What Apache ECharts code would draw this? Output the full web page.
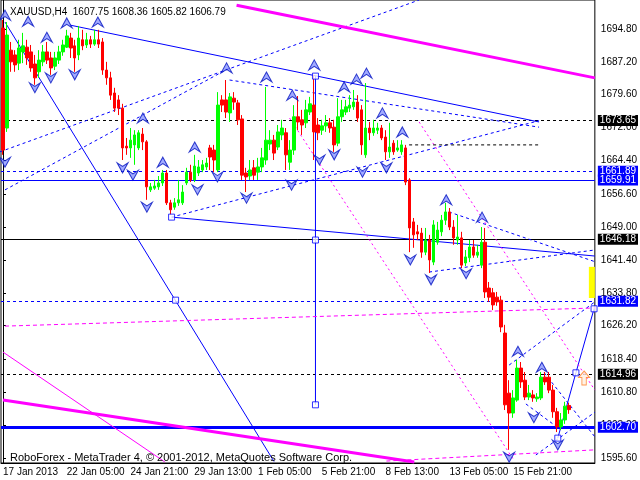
<!DOCTYPE html>
<html><head><meta charset="utf-8">
<script src="https://cdn.jsdelivr.net/npm/echarts@6/dist/echarts.min.js"></script>
<style>html,body{margin:0;padding:0;background:#fff}#c{width:640px;height:480px}</style>
</head><body><div id="c"></div>
<script>
const symbolName = 'XAUUSD,H4';
const lastQuote = [1607.75, 1608.36, 1605.82, 1606.79];
const tickLabels = ['17 Jan 2013','22 Jan 05:00','24 Jan 21:00','29 Jan 13:00','1 Feb 05:00','5 Feb 21:00','8 Feb 13:00','13 Feb 05:00','15 Feb 21:00'];
const yTicks = [1595.60,1603.20,1610.80,1618.40,1626.20,1633.80,1641.40,1649.00,1656.60,1664.40,1672.00,1679.60,1687.20,1694.80];
const opens = [1695.0,1671.9,1689.9,1688.8,1686.9,1689.5,1690.6,1689.5,1686.7,1684.9,1687.2,1689.5,1688.1,1686.2,1687.6,1689.5,1690.6,1692.7,1690.9,1688.8,1692.3,1691.1,1692.3,1691.3,1692.3,1691.8,1685.3,1683.5,1680.0,1678.4,1676.5,1667.7,1667.3,1668.0,1667.3,1670.5,1668.7,1657.6,1658.0,1658.3,1659.2,1661.5,1654.6,1653.6,1654.6,1654.6,1659.2,1661.7,1659.9,1661.5,1662.2,1662.9,1667.3,1666.8,1662.2,1678.4,1678.4,1675.4,1678.8,1677.7,1674.0,1661.5,1660.8,1662.7,1661.7,1662.9,1664.5,1668.2,1669.1,1667.5,1670.3,1670.8,1664.0,1666.8,1674.5,1673.8,1673.1,1675.6,1677.2,1672.6,1671.4,1672.4,1673.1,1672.1,1668.4,1674.5,1675.6,1676.5,1676.8,1677.9,1676.1,1665.7,1671.9,1670.8,1671.4,1671.9,1669.8,1666.4,1668.4,1666.8,1666.4,1667.3,1659.9,1650.2,1647.9,1647.6,1643.2,1646.0,1640.9,1645.5,1647.9,1650.6,1652.5,1649.0,1646.0,1646.5,1640.7,1641.9,1644.4,1642.5,1640.2,1645.5,1634.9,1633.8,1632.8,1632.1,1624.5,1610.6,1606.0,1609.0,1616.4,1613.6,1609.7,1610.2,1609.3,1609.5,1614.3,1614.3,1611.3,1606.3,1602.8,1604.4,1607.75];
const closes = [1666.8,1693.4,1687.2,1686.5,1690.4,1690.9,1688.1,1685.8,1683.5,1687.6,1689.5,1687.6,1685.8,1688.1,1689.5,1691.1,1693.2,1690.4,1688.1,1692.7,1690.9,1692.3,1691.3,1692.3,1691.3,1685.3,1683.5,1679.5,1676.5,1676.5,1667.3,1667.3,1669.1,1670.3,1670.8,1668.7,1658.3,1658.3,1658.5,1659.2,1661.5,1654.6,1653.0,1654.6,1655.3,1657.1,1661.7,1659.9,1663.1,1662.9,1663.4,1663.8,1665.2,1664.5,1677.2,1677.2,1675.6,1679.1,1677.9,1673.8,1661.0,1660.6,1662.2,1661.0,1662.9,1665.0,1669.1,1669.1,1666.1,1671.0,1671.9,1665.7,1666.8,1674.5,1673.3,1672.6,1676.1,1677.5,1671.0,1670.8,1672.4,1673.1,1671.9,1668.0,1674.5,1676.1,1676.8,1677.2,1677.9,1674.2,1668.0,1671.9,1670.8,1671.9,1671.9,1669.6,1666.4,1667.5,1666.4,1667.3,1668.0,1659.4,1648.8,1647.2,1647.4,1643.2,1646.0,1641.4,1649.5,1648.3,1650.6,1652.5,1649.0,1646.5,1646.7,1640.2,1642.1,1644.4,1642.5,1643.2,1645.5,1634.0,1632.8,1631.0,1631.7,1625.9,1607.9,1606.0,1609.5,1616.4,1613.2,1609.7,1610.6,1609.5,1609.7,1614.3,1613.2,1611.3,1606.3,1602.8,1604.4,1607.6,1606.79];
const lows = [1665.7,1671.0,1684.9,1684.9,1685.3,1686.9,1686.5,1684.9,1681.9,1683.5,1686.2,1686.7,1684.2,1685.3,1686.7,1688.6,1690.4,1688.1,1684.9,1687.6,1689.9,1690.4,1690.4,1690.9,1690.4,1684.2,1681.9,1678.4,1675.6,1674.9,1664.5,1665.7,1665.0,1663.4,1666.8,1666.8,1655.3,1657.1,1657.6,1657.6,1658.5,1654.1,1651.8,1653.0,1653.9,1654.1,1658.7,1659.4,1659.4,1660.8,1661.7,1662.2,1662.2,1661.7,1661.7,1675.6,1674.2,1673.3,1676.1,1672.6,1659.9,1657.1,1659.9,1659.9,1659.9,1661.7,1663.4,1666.8,1664.5,1666.8,1669.1,1662.2,1662.2,1665.7,1671.4,1670.3,1671.9,1674.9,1664.5,1669.1,1670.3,1671.0,1670.8,1666.4,1667.7,1673.3,1674.9,1675.6,1676.1,1673.3,1665.7,1665.0,1669.1,1670.1,1670.5,1669.1,1664.5,1665.0,1665.7,1666.4,1665.7,1658.7,1643.2,1644.2,1646.0,1641.9,1642.5,1638.4,1640.2,1644.9,1646.9,1649.5,1648.3,1644.9,1644.9,1639.5,1640.0,1640.9,1641.9,1641.9,1639.5,1632.6,1631.7,1629.8,1630.8,1624.7,1606.7,1597.5,1604.9,1608.6,1611.8,1609.0,1609.0,1608.6,1608.6,1609.0,1612.5,1610.6,1604.9,1601.6,1602.1,1603.5,1605.82];
const highs = [1696.9,1696.4,1691.8,1689.9,1692.3,1693.9,1692.3,1691.1,1688.8,1689.9,1691.1,1691.8,1689.5,1689.5,1690.9,1692.3,1694.6,1693.9,1692.3,1695.5,1694.6,1693.9,1693.2,1694.6,1694.6,1692.7,1687.2,1684.9,1681.2,1679.5,1677.5,1669.6,1671.9,1671.4,1671.4,1671.9,1669.1,1659.2,1659.9,1660.8,1662.2,1662.2,1655.3,1655.7,1659.9,1658.7,1662.7,1663.4,1665.7,1664.5,1664.5,1665.0,1668.0,1668.0,1680.2,1679.5,1683.0,1680.0,1680.2,1678.4,1674.9,1662.7,1664.5,1664.5,1665.0,1667.3,1681.4,1671.4,1670.3,1672.6,1673.8,1671.9,1669.1,1677.2,1679.3,1676.1,1678.4,1679.1,1684.2,1674.2,1673.8,1674.9,1674.2,1673.8,1678.8,1678.4,1678.4,1679.5,1680.7,1679.5,1677.2,1682.3,1673.3,1673.8,1673.1,1672.6,1671.4,1673.1,1669.1,1669.1,1669.1,1668.0,1660.3,1651.1,1649.5,1648.8,1648.8,1647.2,1650.6,1650.2,1651.8,1654.6,1653.4,1650.6,1651.8,1647.9,1643.7,1646.0,1646.0,1644.9,1649.0,1648.8,1636.3,1634.9,1634.0,1633.1,1626.4,1613.6,1611.3,1618.3,1617.8,1615.5,1612.5,1611.3,1610.6,1615.5,1615.5,1615.5,1612.5,1607.2,1606.0,1608.6,1608.36];
// horizontal price levels
const levelsBlackDashed = [1673.65, 1614.96];
const levelsBlackSolid = [1646.18];
const levelsBlueDashed = [1661.89, 1631.82];
const levelsBlueSolid = [1659.91];
const levelsBlueThick = [1602.70];
// trend lines: [[barIndex, price], ...]
const blueSolidLines = [
  [[0.5,1696.4],[68,1594.8]],
  [[16.8,1695.7],[134.5,1673.3]],
  [[42.3,1651.3],[148.5,1642.3]],
  [[78.4,1683.9],[78.4,1607.9]],
  [[139.2,1600.2],[143.75,1615.3],[148.3,1630.1]]
];
const blueDashedLines = [
  [[-0.75,1666.4],[104.4,1701.5]],
  [[0.5,1657.6],[56.85,1685.8]],
  [[56.85,1683.0],[134.5,1672.1]],
  [[42.3,1651.3],[134.5,1673.6]],
  [[111.9,1652.5],[148.5,1641.0]],
  [[106.9,1638.6],[148.5,1643.7]],
  [[127.0,1617.1],[148.5,1631.7]],
  [[135.8,1615.3],[148.5,1600.5]],
  [[133.7,1596.3],[148.5,1606.2]],
  [[131.2,1608.1],[140.0,1602.1]]
];
const blueSquares = [[43.3,1632.1],[42.3,1651.3],[78.4,1683.9],[78.4,1646.0],[78.4,1607.9],[139.2,1600.2],[143.75,1615.3],[148.3,1630.1]];
const magentaThickLines = [
  [[58.6,1700.3],[148.5,1683.5]],
  [[0,1609.0],[103.2,1594.7]]
];
const magentaThinLines = [[[0,1620.1],[40.6,1594.7]]];
const magentaDashedLines = [
  [[0.5,1626.1],[148.75,1630.3]],
  [[96.2,1594.9],[148.75,1597.5]]
];
const magentaDottedLines = [
  [[71.9,1674.2],[128.2,1595.1]],
  [[104.4,1673.3],[148.5,1611.3]]
];
const blackDashedShort = [[[101.9,1668.0],[134.5,1668.0]]];
const upArrows = [[0.5,1698.0],[6.3,1696.6],[11.0,1692.9],[16.0,1696.2],[23.8,1696.4],[35.1,1674.2],[40.1,1664.0],[48.1,1667.5],[56.1,1685.8],[66.1,1683.7],[72.6,1679.5],[78.1,1686.5],[85.6,1681.4],[88.7,1683.2],[91.2,1684.6],[95.2,1675.4],[100.2,1671.0],[111.2,1655.3],[120.2,1651.3],[129.2,1620.3],[135.2,1616.6]];
const downArrows = [[0.5,1664.0],[8.0,1681.2],[12.0,1683.5],[18.0,1684.2],[30.0,1662.7],[32.6,1661.0],[36.1,1653.6],[48.8,1657.6],[53.8,1660.6],[61.1,1655.7],[72.4,1658.7],[79.4,1664.5],[83.1,1665.7],[90.2,1661.7],[96.2,1662.7],[102.2,1641.4],[107.4,1636.8],[116.2,1638.2],[127.0,1595.8],[133.2,1604.9],[139.2,1598.6]];
const signalArrow = [[145.8,1614.1]];
const yellowBar = [[147.0,1639.8],[148.5,1632.6]];

const N = 149;
const cats = [];
for (let i = 0; i < N; i++) cats.push(i % 16 === 0 && tickLabels[i / 16] ? tickLabels[i / 16] : 'b' + i);
const candles = opens.map((o, i) => [o, closes[i], lows[i], highs[i]]);

const FONT = 'Liberation Sans';
const BLUE = '#0000ff';
function lineSeries(lines, style) {
  return lines.map(pts => ({
    type: 'line', xAxisIndex: 1, yAxisIndex: 0, data: pts, symbol: 'none', silent: true, z: 1,
    lineStyle: style, animation: false
  }));
}
function lvlLabel(bg) {
  return { show: true, position: 'end', distance: 3, color: '#fff', backgroundColor: bg, fontFamily: FONT, fontSize: 10,
    padding: [1, 2, 0, 2], formatter: p => p.value.toFixed(2) };
}
function hLevels(vals, style, bg) {
  return vals.map(v => ({ yAxis: v, lineStyle: style, label: lvlLabel(bg) }));
}
const markData = [].concat(
  hLevels(levelsBlackDashed, { color: '#000', type: [3, 3], width: 1 }, '#000'),
  hLevels(levelsBlackSolid, { color: '#000', type: 'solid', width: 1 }, '#000'),
  hLevels(levelsBlueDashed, { color: BLUE, type: [3, 3], width: 1 }, BLUE),
  hLevels(levelsBlueSolid, { color: BLUE, type: 'solid', width: 1 }, BLUE),
  hLevels(levelsBlueThick, { color: BLUE, type: 'solid', width: 3 }, BLUE),
  [{ yAxis: lastQuote[3], lineStyle: { opacity: 0 }, label: lvlLabel('#000') }]
);

const upPath = 'path://M6,0 L12,11 L6,7 L0,11 Z';
const downPath = 'path://M0,0 L6,4 L12,0 L6,11 Z';
const orangeUp = 'path://M5,0 L10,6 L7,6 L7,13 L3,13 L3,6 L0,6 Z';

const series = [
  {
    type: 'candlestick', data: candles, barWidth: 3, z: 3, silent: true,
    itemStyle: { color: '#00ff00', color0: '#ff0000', borderColor: '#00ff00', borderColor0: '#ff0000', borderWidth: 1 },
    markLine: { symbol: 'none', silent: true, animation: false, z: 1, data: markData }
  }
].concat(
  lineSeries(blueSolidLines, { color: BLUE, width: 1 }),
  lineSeries(blueDashedLines, { color: BLUE, width: 1, type: [3, 3] }),
  lineSeries(magentaThickLines, { color: '#ff00ff', width: 3 }),
  lineSeries(magentaThinLines, { color: '#ff00ff', width: 1 }),
  lineSeries(magentaDashedLines, { color: '#ff00ff', width: 1, type: [4, 3] }),
  lineSeries(magentaDottedLines, { color: '#ff00ff', width: 1, type: [2, 3] }),
  lineSeries(blackDashedShort, { color: '#000', width: 1, type: [3, 3] }),
  [
    { type: 'scatter', xAxisIndex: 1, data: blueSquares, symbol: 'rect', symbolSize: 6, z: 4, silent: true,
      itemStyle: { color: '#fff', borderColor: BLUE, borderWidth: 1 } },
    { type: 'scatter', xAxisIndex: 1, data: upArrows, symbol: upPath, symbolSize: [11, 10], z: 5, silent: true,
      itemStyle: { color: '#8a96ff', borderColor: '#0010c0', borderWidth: 1 } },
    { type: 'scatter', xAxisIndex: 1, data: downArrows, symbol: downPath, symbolSize: [11, 10], z: 5, silent: true,
      itemStyle: { color: '#8a96ff', borderColor: '#0010c0', borderWidth: 1 } },
    { type: 'scatter', xAxisIndex: 1, data: signalArrow, symbol: orangeUp, symbolSize: [11, 14], z: 5, silent: true,
      itemStyle: { color: '#fff0e0', borderColor: '#ff7f27', borderWidth: 1 } },
    { type: 'line', xAxisIndex: 1, data: [], silent: true,
      markArea: { silent: true, itemStyle: { color: '#ffff00' }, data: [[{ coord: yellowBar[0] }, { coord: yellowBar[1] }]] } }
  ]
);

const chart = echarts.init(document.getElementById('c'), null, { renderer: 'canvas' });
chart.setOption({
  animation: false,
  backgroundColor: '#fff',
  textStyle: { fontFamily: FONT },
  title: [
    { text: symbolName + '  ' + lastQuote.map(v => v.toFixed(2)).join(' '), left: 5, top: 2,
      textStyle: { fontSize: 10, fontWeight: 'normal', color: '#000', fontFamily: FONT } },
    { text: 'RoboForex - MetaTrader 4, © 2001-2012, MetaQuotes Software Corp.', left: 5, top: 447,
      textStyle: { fontSize: 11, fontWeight: 'normal', color: '#000', fontFamily: FONT } }
  ],
  grid: { left: 1, right: 44, top: 0, bottom: 17, show: true, borderColor: '#000', borderWidth: 1, backgroundColor: 'transparent' },
  xAxis: [
    { type: 'category', data: cats, boundaryGap: true,
      axisLine: { lineStyle: { color: '#000' } },
      axisTick: { alignWithLabel: true, interval: i => i % 16 === 0, length: 4, lineStyle: { color: '#000' } },
      axisLabel: { interval: i => i % 16 === 0, formatter: v => v.charAt(0) === 'b' ? '' : v, align: 'left', margin: 4,
        color: '#000', fontSize: 10, fontFamily: FONT },
      splitLine: { show: false } },
    { type: 'value', min: -0.5, max: N - 0.5, show: false }
  ],
  yAxis: [{
    type: 'value', position: 'right', min: 1594.45, max: 1701.5, scale: true,
    axisLine: { show: true, lineStyle: { color: '#000' } },
    axisTick: { show: true, length: 3, customValues: yTicks, lineStyle: { color: '#000' } },
    axisLabel: { customValues: yTicks, formatter: v => v.toFixed(2), margin: 6, color: '#000', fontSize: 10, fontFamily: FONT },
    splitLine: { show: false }
  }],
  series: series
});
</script></body></html>
